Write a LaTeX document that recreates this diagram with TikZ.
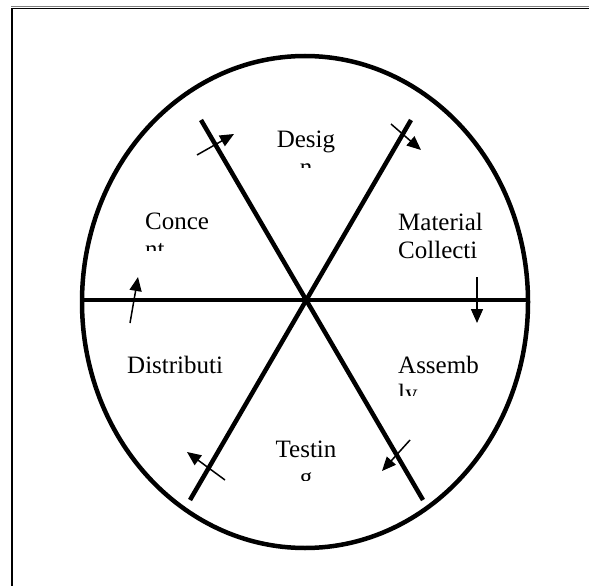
\documentclass[tikz,border=0pt]{standalone}
\usepackage{fontspec}
\setmainfont{Liberation Serif}
\usetikzlibrary{arrows.meta}
\begin{document}
\begin{tikzpicture}[x=1pt,y=-1pt,
  spoke/.style={line width=4.5pt},
  flow/.style={line width=1.5pt,-{Triangle[length=14pt,width=12pt]}},
  lbl/.style={inner sep=0pt,font=\fontsize{25}{28}\selectfont},
]
\useasboundingbox (0,0) rectangle (589,586);
\fill[white] (0,0) rectangle (589,586);
% frame
\coordinate (ftl) at (11.5,8.5);
\coordinate (ftr) at (589,8.5);
\coordinate (fbl) at (11.5,586);
\draw[gray, line width=1pt] (11,7) -- (589,7);
\draw[line width=1.5pt] (ftl) -- (ftr);
\draw[line width=2pt] (ftl) -- (fbl);
% ellipse
\coordinate (c) at (306,300);
\draw[line width=4.5pt] (305,302) ellipse [x radius=223, y radius=246];
% spokes
\coordinate (hl) at (83,300);
\coordinate (hr) at (527,300);
\coordinate (ul) at (201,120);
\coordinate (ur) at (411,120);
\coordinate (ll) at (190,500);
\coordinate (lr) at (423,500);
\draw[spoke] (hl) -- (hr);
\draw[spoke] (ul) -- (lr);
\draw[spoke] (ur) -- (ll);
% labels
\begin{scope}
\clip (240,100) rectangle (370,167);
\node[lbl,anchor=base] (design) at (306,147) {Desig};
\node[lbl,anchor=base] (design2) at (306,175) {n};
\end{scope}
\begin{scope}
\clip (130,190) rectangle (240,250);
\node[lbl,anchor=base west] (concept) at (145,229) {Conce};
\node[lbl,anchor=base west] (concept2) at (145,257) {nt};
\end{scope}
\node[lbl,anchor=base west] (material) at (398,230) {Material};
\node[lbl,anchor=base west] (material2) at (398,258) {Collecti};
\begin{scope}
\clip (380,340) rectangle (500,395);
\node[lbl,anchor=base west] (assembly) at (398,373) {Assemb};
\node[lbl,anchor=base west] (assembly2) at (398,401) {ly};
\end{scope}
\node[lbl,anchor=base west] (distribution) at (127,373) {Distributi};
\begin{scope}
\clip (240,420) rectangle (370,480);
\node[lbl,anchor=base] (testing) at (306,457) {Testin};
\node[lbl,anchor=base] (testing2) at (306,485) {g};
\end{scope}
% arrows
\coordinate (a1s) at (197,155); \coordinate (a1e) at (234,134);
\coordinate (a2s) at (391,124); \coordinate (a2e) at (421,150);
\coordinate (a3s) at (477,277); \coordinate (a3e) at (477,323);
\coordinate (a4s) at (410,440); \coordinate (a4e) at (382,471);
\coordinate (a5s) at (225,480); \coordinate (a5e) at (187,452);
\coordinate (a6s) at (130,323); \coordinate (a6e) at (138,277);
\draw[flow] (a1s) -- (a1e);
\draw[flow] (a2s) -- (a2e);
\draw[flow] (a3s) -- (a3e);
\draw[flow] (a4s) -- (a4e);
\draw[flow] (a5s) -- (a5e);
\draw[flow] (a6s) -- (a6e);
\end{tikzpicture}
\end{document}
